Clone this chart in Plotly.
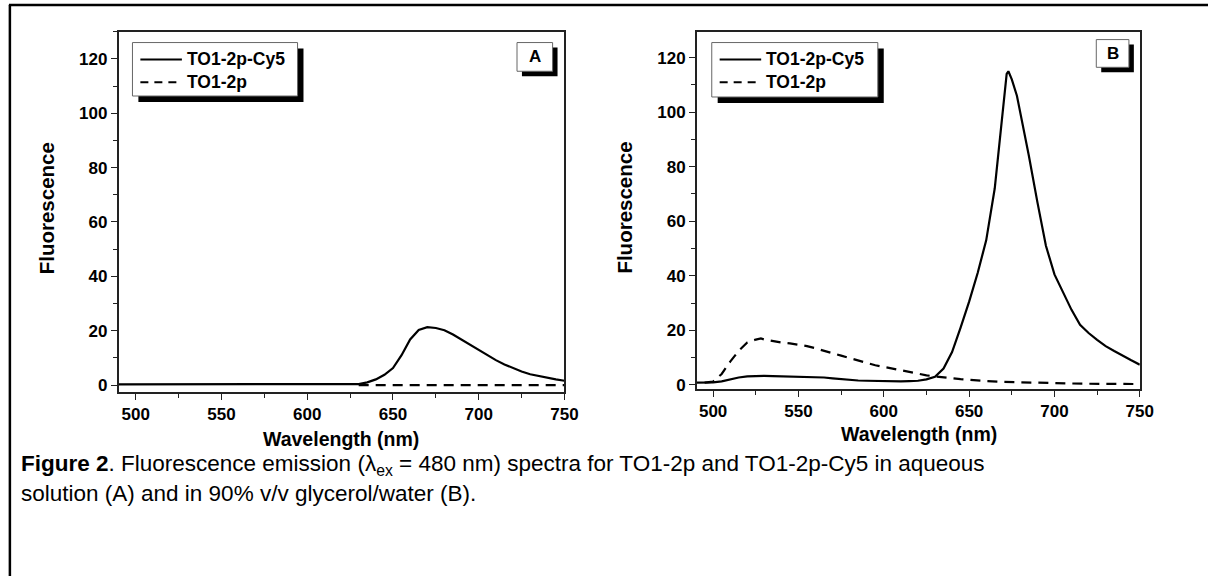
import plotly.graph_objects as go

W, H = 1222, 582

# ---------------- data ----------------
wl_a = [490, 495, 500, 505, 510, 515, 520, 525, 530, 535, 540, 545, 550, 555, 560, 565,
        570, 575, 580, 585, 590, 595, 600, 605, 610, 615, 620, 625, 630, 635, 640, 645,
        650, 655, 660, 665, 670, 675, 680, 685, 690, 695, 700, 705, 710, 715, 720, 725,
        730, 735, 740, 745, 750]
a_cy5 = [0.3, 0.3, 0.3, 0.4, 0.3, 0.4, 0.3, 0.4, 0.3, 0.3, 0.4, 0.3, 0.3, 0.3, 0.3, 0.3,
         0.4, 0.3, 0.2, 0.2, 0.2, 0.2, 0.2, 0.2, 0.2, 0.2, 0.3, 0.3, 0.4, 1.0, 2.1, 3.8,
         6.3, 11.0, 16.8, 20.3, 21.3, 21.0, 20.2, 18.6, 16.7, 14.8, 12.8, 11.0, 9.2, 7.6, 6.2, 5.0,
         4.0, 3.3, 2.7, 2.1, 1.6]
wl_a_dash = [630, 640, 650, 660, 670, 680, 690, 700, 710, 720, 730, 740, 750]
a_to = [0.0, 0.0, 0.0, 0.0, 0.0, 0.0, 0.0, 0.0, 0.0, 0.0, 0.0, 0.0, 0.0]

wl_b = [490, 495, 500, 505, 510, 515, 520, 525, 530, 535, 540, 545, 550, 555, 560, 565,
        570, 575, 580, 585, 590, 595, 600, 605, 610, 615, 620, 625, 630, 635, 640, 645,
        650, 655, 660, 665, 668, 670, 672, 673, 675, 678, 680, 685, 690, 695, 700, 705,
        710, 715, 720, 725, 730, 735, 740, 745, 750]
b_cy5 = [0.8, 0.8, 0.9, 1.3, 2.0, 2.7, 3.1, 3.3, 3.3, 3.2, 3.1, 3.0, 3.0, 3.0, 2.9, 2.7,
         2.4, 2.1, 1.8, 1.6, 1.5, 1.4, 1.3, 1.3, 1.3, 1.4, 1.5, 2.0, 3.0, 6.0, 12.0, 21.0,
         30.5, 41.0, 53.0, 72.0, 90.0, 104.0, 114.0, 115.0, 112.0, 106.0, 100.0, 84.0, 67.0, 51.0, 40.5, 34.0,
         27.5, 22.0, 19.0, 16.5, 14.2, 12.4, 10.6, 9.0, 7.4]
wl_b_dash = [495, 500, 505, 510, 515, 520, 525, 528, 530, 535, 540, 545, 550, 555, 560, 565,
             570, 575, 580, 585, 590, 595, 600, 605, 610, 615, 620, 625, 630, 635, 640, 645,
             650, 655, 660, 670, 680, 690, 700, 710, 720, 730, 740, 750]
b_to = [0.8, 1.2, 4.0, 8.5, 12.5, 15.5, 16.6, 17.0, 16.6, 16.0, 15.5, 15.2, 14.8, 14.2, 13.4, 12.6,
        11.6, 10.7, 9.8, 8.9, 8.0, 7.2, 6.6, 6.0, 5.4, 4.7, 4.0, 3.5, 3.1, 2.7, 2.3, 2.1,
        1.9, 1.6, 1.4, 1.1, 0.9, 0.8, 0.6, 0.5, 0.4, 0.35, 0.3, 0.3]

series_names = ["TO1-2p-Cy5", "TO1-2p"]
panel_letters = ["A", "B"]
x_ticks = [500, 550, 600, 650, 700, 750]
y_ticks = [0, 20, 40, 60, 80, 100, 120]
caption_lines = [
    "<b>Figure 2</b>. Fluorescence emission (λ<sub>ex</sub> = 480 nm) spectra for TO1-2p and "
    "TO1-2p-Cy5 in aqueous",
    "solution (A) and in 90% v/v glycerol/water (B).",
]

FONT = "Liberation Sans, Arial, sans-serif"


def px(x):
    return x / W


def py(y):
    return 1 - y / H


fig = go.Figure()
line_solid = dict(color="black", width=2.2)
line_dash = dict(color="black", width=2.2, dash="10px,7px")

fig.add_trace(go.Scatter(x=wl_a_dash, y=a_to, mode="lines", line=line_dash,
                         name=series_names[1], xaxis="x", yaxis="y", showlegend=False))
fig.add_trace(go.Scatter(x=wl_a, y=a_cy5, mode="lines", line=line_solid,
                         name=series_names[0], xaxis="x", yaxis="y", showlegend=False))
fig.add_trace(go.Scatter(x=wl_b_dash, y=b_to, mode="lines", line=line_dash,
                         name=series_names[1], xaxis="x2", yaxis="y2", showlegend=False))
fig.add_trace(go.Scatter(x=wl_b, y=b_cy5, mode="lines", line=line_solid,
                         name=series_names[0], xaxis="x2", yaxis="y2", showlegend=False))

tickfont = dict(family=FONT, size=17, color="black", weight="bold")
common_x = dict(tickvals=x_ticks, ticks="outside", ticklen=6, tickwidth=1.3, tickcolor="#222",
                showline=True, linecolor="#222", linewidth=1.6, mirror=True,
                showgrid=False, zeroline=False, tickfont=tickfont,
                minor=dict(dtick=25, ticks="outside", ticklen=4, tickwidth=1, tickcolor="#222"))
common_y = dict(tickvals=y_ticks, ticks="outside", ticklen=6, tickwidth=1.3, tickcolor="#222",
                showline=True, linecolor="#222", linewidth=1.6, mirror=True,
                showgrid=False, zeroline=False, tickfont=tickfont,
                minor=dict(dtick=10, ticks="outside", ticklen=4, tickwidth=1, tickcolor="#222"))

fig.update_layout(
    width=W, height=H,
    margin=dict(l=0, r=0, t=0, b=0),
    paper_bgcolor="white", plot_bgcolor="white",
    xaxis=dict(domain=[px(120), px(571)], range=[490, 750], anchor="y", **common_x),
    yaxis=dict(domain=[py(396), py(32)], range=[-2.5, 130], anchor="x", **common_y),
    xaxis2=dict(domain=[px(705), px(1153)], range=[490.5, 750], anchor="y2", **common_x),
    yaxis2=dict(domain=[py(393), py(32)], range=[-1.5, 129.5], anchor="x2", **common_y),
)

shapes = []
annotations = []

# outer frame (top and left edges visible)
shapes.append(dict(type="line", xref="paper", yref="paper", x0=px(10), y0=py(582), x1=px(10), y1=py(5),
                   line=dict(color="black", width=2.5)))
shapes.append(dict(type="line", xref="paper", yref="paper", x0=px(9), y0=py(5), x1=px(1222), y1=py(5),
                   line=dict(color="black", width=2.5)))


def shadow_box(x0, y0, x1, y1, off=6):
    shapes.append(dict(type="rect", xref="paper", yref="paper",
                       x0=px(x0 + off), y0=py(y1 + off), x1=px(x1 + off), y1=py(y0 + off),
                       fillcolor="black", line=dict(width=0)))
    shapes.append(dict(type="rect", xref="paper", yref="paper",
                       x0=px(x0), y0=py(y1), x1=px(x1), y1=py(y0),
                       fillcolor="white", line=dict(color="#666", width=1)))


legend_font = dict(family=FONT, size=17.5, color="black")
for (bx0, by0, bx1, by1), (lx0, lx1, tx) in [((134, 43, 301, 97), (142, 184, 187)),
                                               ((720, 43, 888, 98), (728, 770, 773))]:
    shadow_box(bx0, by0, bx1, by1)
    for i, (name, dash) in enumerate(zip(series_names, [None, "8px,6px"])):
        yy = 60 + 23 * i
        ld = dict(color="black", width=2)
        if dash:
            ld["dash"] = dash
        shapes.append(dict(type="line", xref="paper", yref="paper", x0=px(lx0), y0=py(yy),
                           x1=px(lx1), y1=py(yy), line=ld))
        annotations.append(dict(text="<b>%s</b>" % name, xref="paper", yref="paper",
                                x=px(tx), y=py(yy), xanchor="left", yanchor="middle",
                                showarrow=False, font=legend_font))

for letter, (bx0, by0, bx1, by1) in zip(panel_letters, [(523, 43, 559, 72), (1109, 40, 1142, 68)]):
    shadow_box(bx0, by0, bx1, by1, off=5)
    annotations.append(dict(text="<b>%s</b>" % letter, xref="paper", yref="paper",
                            x=px((bx0 + bx1) / 2), y=py((by0 + by1) / 2), xanchor="center",
                            yanchor="middle", showarrow=False,
                            font=dict(family=FONT, size=17, color="black")))

for (x, y) in [(47, 210), (632, 210)]:
    annotations.append(dict(text="<b>Fluorescence</b>", xref="paper", yref="paper", x=px(x), y=py(y),
                            textangle=-90, showarrow=False, xanchor="center", yanchor="middle",
                            font=dict(family=FONT, size=20.5, color="black")))
for (x, y) in [(345, 444), (930, 439)]:
    annotations.append(dict(text="<b>Wavelength (nm)</b>", xref="paper", yref="paper", x=px(x), y=py(y),
                            showarrow=False, xanchor="center", yanchor="middle",
                            font=dict(family=FONT, size=19.5, color="black")))

for i, line in enumerate(caption_lines):
    annotations.append(dict(text=line, xref="paper", yref="paper", x=px(19), y=py(470 + 29 * i),
                            xanchor="left", yanchor="middle", align="left", showarrow=False,
                            font=dict(family=FONT, size=22.5, color="black")))

fig.update_layout(shapes=shapes, annotations=annotations)
fig.write_html("out.html")
